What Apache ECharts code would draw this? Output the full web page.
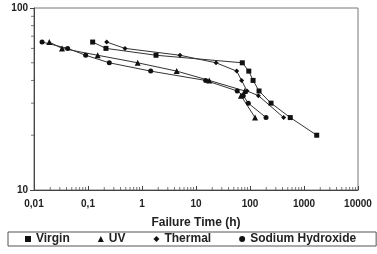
<!DOCTYPE html>
<html>
<head>
<meta charset="utf-8">
<script src="https://cdn.jsdelivr.net/npm/echarts@6/dist/echarts.min.js"></script>
<style>
  html, body { margin: 0; padding: 0; background: #fff; }
  #chart { width: 377px; height: 254px; }
</style>
</head>
<body>
<div id="chart"></div>
<script>
// failure time (h) / % yield stress
var virginTime = [0.122, 0.215, 1.82, 72, 95, 114, 147, 245, 557, 1720];
var virginStress = [65, 60, 55, 50, 45, 40, 35, 30, 25, 20];
var uvTime = [0.0192, 0.033, 0.151, 0.832, 4.39, 17.6, 80, 68, 124];
var uvStress = [65, 60, 55, 50, 45, 40, 35, 33, 25];
var thermalTime = [0.222, 0.484, 5.05, 23.5, 56.7, 70, 88, 143, 420];
var thermalStress = [65, 60, 55, 50, 45, 40, 35, 33, 25];
var naohTime = [0.0141, 0.042, 0.0906, 0.248, 1.45, 15.1, 58, 75, 93, 198];
var naohStress = [65, 60, 55, 50, 45, 40, 35, 33, 30, 25];

// minor tick positions of the log axes
var xMinorTicks = [
  0.02, 0.03, 0.04, 0.05, 0.06, 0.07, 0.08, 0.09,
  0.2, 0.3, 0.4, 0.5, 0.6, 0.7, 0.8, 0.9,
  2, 3, 4, 5, 6, 7, 8, 9,
  20, 30, 40, 50, 60, 70, 80, 90,
  200, 300, 400, 500, 600, 700, 800, 900,
  2000, 3000, 4000, 5000, 6000, 7000, 8000, 9000
];
var yMinorTicks = [20, 30, 40, 50, 60, 70, 80, 90];

var font = 'Liberation Sans';
var lineColor = '#333';

function pairs(t, s) {
  return t.map(function (v, i) { return [v, s[i]]; });
}
function makeSeries(name, t, s, symbol, size) {
  return {
    name: name,
    type: 'line',
    data: pairs(t, s),
    symbol: symbol,
    symbolSize: size,
    showAllSymbol: true,
    lineStyle: { color: lineColor, width: 1 },
    itemStyle: { color: '#111' },
    emphasis: { disabled: true },
    animation: false
  };
}
function tickSeries(data, size, offset) {
  return {
    type: 'scatter',
    data: data,
    symbol: 'rect',
    symbolSize: size,
    symbolOffset: offset,
    itemStyle: { color: '#555' },
    clip: false,
    silent: true,
    z: 1,
    animation: false
  };
}

var chart = echarts.init(document.getElementById('chart'));
var labelStyle = { color: '#222', fontSize: 10, fontWeight: 'bold', fontFamily: font };

var option = {
  animation: false,
  grid: {
    left: 34, right: 19, top: 8, bottom: 64,
    outerBoundsMode: 'none',
    containLabel: false,
    show: true, borderColor: '#777', borderWidth: 1
  },
  xAxis: {
    type: 'log',
    logBase: 10,
    min: 0.01,
    max: 10000,
    name: 'Failure Time (h)',
    nameLocation: 'middle',
    nameGap: 27,
    nameTextStyle: { color: '#222', fontSize: 12, fontWeight: 'bold', fontFamily: font },
    axisLine: { lineStyle: { color: '#444' } },
    axisTick: { inside: true, length: 4, lineStyle: { color: '#444' } },
    splitLine: { show: false },
    axisLabel: Object.assign({
      margin: 9,
      formatter: function (v) { return String(+v.toPrecision(6)).replace('.', ','); }
    }, labelStyle)
  },
  yAxis: {
    type: 'log',
    logBase: 10,
    min: 10,
    max: 100,
    name: '% Yield Stress',
    nameLocation: 'middle',
    nameRotate: 90,
    nameGap: 18,
    nameTextStyle: { color: '#222', fontSize: 12, fontWeight: 'bold', fontFamily: font },
    axisLine: { show: true, lineStyle: { color: '#444' } },
    axisTick: { show: true, length: 4, lineStyle: { color: '#444' } },
    splitLine: { show: false },
    axisLabel: Object.assign({ margin: 6 }, labelStyle)
  },
  legend: {
    left: 8,
    top: 232,
    width: 345,
    orient: 'horizontal',
    padding: [1, 20, 1, 17],
    itemGap: 28,
    itemWidth: 6,
    itemHeight: 6,
    itemStyle: { color: '#111' },
    borderColor: '#555',
    borderWidth: 1,
    selectedMode: false,
    textStyle: { color: '#222', fontSize: 12, fontWeight: 'bold', fontFamily: font },
    data: [
      { name: 'Virgin', icon: 'rect' },
      { name: 'UV', icon: 'triangle' },
      { name: 'Thermal', icon: 'diamond' },
      { name: 'Sodium Hydroxide', icon: 'circle' }
    ]
  },
  series: [
    makeSeries('Virgin', virginTime, virginStress, 'rect', 5),
    makeSeries('UV', uvTime, uvStress, 'triangle', 6),
    makeSeries('Thermal', thermalTime, thermalStress, 'diamond', 5),
    makeSeries('Sodium Hydroxide', naohTime, naohStress, 'circle', 5),
    tickSeries(xMinorTicks.map(function (v) { return [v, 10]; }), [1, 3], [0, -1.5]),
    tickSeries(yMinorTicks.map(function (v) { return [0.01, v]; }), [3, 1], [-1.5, 0])
  ]
};
chart.setOption(option);
</script>
</body>
</html>
